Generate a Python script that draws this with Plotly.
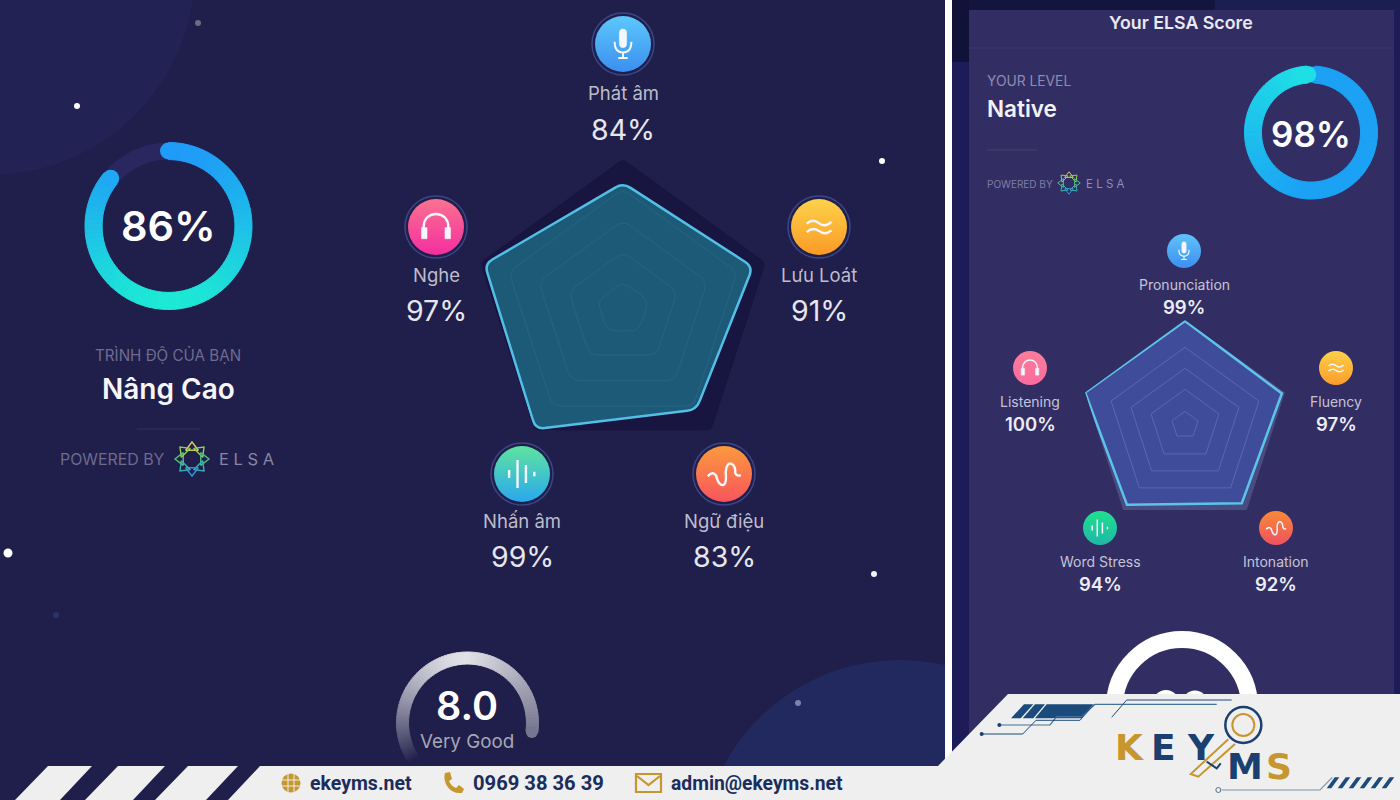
import math, re
import plotly.graph_objects as go

# ---------- data ----------
left_categories = ["Phát âm", "Lưu Loát", "Ngữ điệu", "Nhấn âm", "Nghe"]
left_values = [84, 91, 83, 99, 97]
left_grid = [18, 38, 59, 80]
right_categories = ["Pronunciation", "Fluency", "Intonation", "Word Stress", "Listening"]
right_values = [99, 97, 92, 94, 100]
right_grid = [13, 34, 54, 74]
full_scale = [100, 100, 100, 100, 100]
left_score = 86
right_score = 98
gauge_score = 8.0
gauge_label = "Very Good"
left_level_title = "TRÌNH ĐỘ CỦA BẠN"
left_level = "Nâng Cao"
right_level_title = "YOUR LEVEL"
right_level = "Native"
right_title = "Your ELSA Score"
powered = "POWERED BY"
brand = "E L S A"
footer_texts = ["ekeyms.net", "0969 38 36 39", "admin@ekeyms.net"]

# ---------- palette ----------
BG = "#201e4a"
CARD = "#322e64"
MARGIN = "#1e1c58"
FOOT = "#efefef"
NAVY = "#1b3f70"
GOLD = "#c6962f"
W, H = 1400, 800


def hex_rgb(c):
    return tuple(int(c[i:i + 2], 16) for i in (1, 3, 5))


def mix(a, b, t):
    t = max(0.0, min(1.0, t))
    ra, rb = hex_rgb(a), hex_rgb(b)
    return "#%02x%02x%02x" % tuple(round(ra[i] + (rb[i] - ra[i]) * t) for i in range(3))


def dom(c, r):
    return [(c - r) / W, (c + r) / W]


def ydom(c, r):
    return [1 - (c + r) / H, 1 - (c - r) / H]


shapes = []
anns = []
fig = go.Figure()


def circle(cx, cy, r, fill=None, line=None, lw=0, layer="below"):
    shapes.append(dict(type="circle", xref="x", yref="y", x0=cx - r, x1=cx + r, y0=cy - r, y1=cy + r,
                       fillcolor=fill or "rgba(0,0,0,0)", line=dict(color=line or "rgba(0,0,0,0)", width=lw),
                       layer=layer))


def poly(pts, fill, layer="below"):
    p = "M" + " L".join(f"{x:.1f} {y:.1f}" for x, y in pts) + " Z"
    shapes.append(dict(type="path", xref="x", yref="y", path=p, fillcolor=fill, line=dict(width=0), layer=layer))


def polyline(pts, color, lw=1, layer="above"):
    p = "M" + " L".join(f"{x:.1f} {y:.1f}" for x, y in pts)
    shapes.append(dict(type="path", xref="x", yref="y", path=p, line=dict(color=color, width=lw), layer=layer))


def rect(x0, y0, x1, y1, fill, layer="below"):
    shapes.append(dict(type="rect", xref="x", yref="y", x0=x0, x1=x1, y0=y0, y1=y1, fillcolor=fill,
                       line=dict(width=0), layer=layer))


def text(x, y, s, size, color, weight=400, anchor="center", family="Inter"):
    anns.append(dict(x=x, y=y, xref="x", yref="y", text=s, showarrow=False, xanchor=anchor, yanchor="middle",
                     font=dict(family=family, size=size, color=color, weight=weight)))


def glyph(path, cx, cy, r, color, lw=2, fill=False):
    res, is_x = [], True
    for tok in re.findall(r"[MLQCZ]|-?\d*\.?\d+", path):
        if tok in "MLQCZ":
            res.append(tok)
        else:
            v = float(tok)
            res.append(f"{(cx + v * r) if is_x else (cy + v * r):.2f}")
            is_x = not is_x
    shapes.append(dict(type="path", xref="x", yref="y", path=" ".join(res), layer="above",
                       fillcolor=color if fill else "rgba(0,0,0,0)",
                       line=dict(color=color, width=lw)))


def draw_mic(cx, cy, r, c, lw):
    glyph("M-.13 -.4 Q-.13 -.54 0 -.54 Q.13 -.54 .13 -.4 L.13 0 Q.13 .13 0 .13 Q-.13 .13 -.13 0 Z", cx, cy, r, c, 0.5, True)
    glyph("M-.3 -.08 Q-.3 .3 0 .3 Q.3 .3 .3 -.08", cx, cy, r, c, lw * 0.8)
    glyph("M0 .3 L0 .5 M-.17 .5 L.17 .5", cx, cy, r, c, lw * 0.8)


def draw_head(cx, cy, r, c, lw):
    glyph("M-.44 .15 L-.44 0 C-.44 -.62 .44 -.62 .44 0 L.44 .15", cx, cy, r, c, lw)
    glyph("M-.52 .02 L-.32 .02 L-.32 .42 L-.52 .42 Z", cx, cy, r, c, 0.5, True)
    glyph("M.32 .02 L.52 .02 L.52 .42 L.32 .42 Z", cx, cy, r, c, 0.5, True)


def draw_wave(cx, cy, r, c, lw):
    glyph("M-.44 -.12 Q-.22 -.32 0 -.14 Q.22 .04 .44 -.18", cx, cy, r, c, lw)
    glyph("M-.44 .18 Q-.22 -.02 0 .14 Q.22 .32 .44 .12", cx, cy, r, c, lw)


def draw_bars(cx, cy, r, c, lw):
    glyph("M-.46 -.14 L-.46 .14 M-.16 -.5 L-.16 .5 M.14 -.32 L.14 .32 M.44 -.08 L.44 .08", cx, cy, r, c, lw)


def draw_tone(cx, cy, r, c, lw):
    glyph("M-.58 .08 Q-.4 -.12 -.28 .06 Q-.18 .46 0 .38 Q.1 .3 .06 -.08 Q.1 -.44 .28 -.36 Q.42 -.28 .4 -.04 Q.46 .1 .6 .04", cx, cy, r, c, lw)


icons = [draw_mic, draw_wave, draw_tone, draw_bars, draw_head]
left_icon_pos = [(623, 44), (819, 227), (724, 474), (522, 474), (436, 227)]
left_label_pos = [(623, 93, 129.5), (819, 275, 310.5), (724, 521, 556.5), (522, 521, 556.5), (436, 275, 310.5)]
right_icon_pos = [(1184, 251), (1336, 368), (1276, 528), (1100, 528), (1030, 368)]
right_label_pos = [(1184, 284, 307), (1336, 401, 424), (1276, 561, 584), (1100, 561, 584), (1030, 401, 424)]
left_icon_cols = [("#5cc8fb", "#3b8ff0"), ("#fdd24a", "#fb9a26"), ("#fc9a3c", "#f9545e"), ("#5fe3a0", "#29a8ee"), ("#fb7291", "#f42ea0")]
right_icon_cols = [("#5fc3fa", "#3d8ff0"), ("#fdd04a", "#fb9d2a"), ("#f98a36", "#ee5161"), ("#1fe08e", "#1fb6a8"), ("#fb7d9a", "#fb6b9f")]

# ---------- backgrounds ----------
rect(0, 0, W, H, BG)
circle(-10, -30, 205, fill="#222254")
circle(900, 860, 200, fill="#22295f")
rect(945, 0, 952, 760, "#ffffff")
rect(952, 0, W, H, MARGIN)
rect(952, 0, W, 10, "#13153f")
rect(952, 0, 969, 62, "#10123a")
rect(1215, 0, W, 10, "#1b1e50")
rect(969, 10, 1394, H, CARD)
polyline([(969, 48), (1394, 48)], "#3b3870", 1, "below")

for cx, cy, r, c in [(198, 23, 3, "#6c6c88"), (77, 106, 3, "#ffffff"), (882, 161, 3, "#ffffff"),
                     (8, 553, 4.5, "#ffffff"), (874, 574, 3, "#f4f4f8"), (798, 703, 3, "#7b84a8"),
                     (56, 615, 3, "#2a3370")]:
    circle(cx, cy, r, fill=c)

# ---------- radars ----------


def radar(name, cats, vals, grid, cx, cy, R, back_col, fill_col, edge_col, grid_col, lw):
    fig.add_trace(go.Scatterpolar(r=full_scale + full_scale[:1], theta=cats + cats[:1], subplot=name, mode="lines",
                                  fill="toself", fillcolor=back_col, line=dict(color=back_col, width=lw),
                                  hoverinfo="skip", showlegend=False))
    fig.add_trace(go.Scatterpolar(r=vals + vals[:1], theta=cats + cats[:1], subplot=name, mode="lines",
                                  fill="toself", fillcolor=fill_col, line=dict(color=edge_col, width=lw),
                                  hoverinfo="skip", showlegend=False))
    for g in grid:
        fig.add_trace(go.Scatterpolar(r=[g] * 6, theta=cats + cats[:1], subplot=name, mode="lines",
                                      line=dict(color=grid_col, width=1), hoverinfo="skip", showlegend=False))
    return dict(domain=dict(x=dom(cx, R), y=ydom(cy, R)), bgcolor="rgba(0,0,0,0)", gridshape="linear",
                radialaxis=dict(range=[0, 100], visible=False),
                angularaxis=dict(type="category", categoryorder="array", categoryarray=cats, direction="clockwise",
                                 rotation=90, visible=False))


polar1 = radar("polar", left_categories, left_values, left_grid, 623, 309, 150, "#181640", "#1c5a78", "#53bfe6", "#266583", 2.5)
polar2 = radar("polar2", right_categories, right_values, right_grid, 1185, 425, 105, "#4a4c80", "#3f4c9a", "#5cc4ea", "#5a68ae", 2.5)

# ---------- rings ----------


def ring(score, total, cx, cy, R, hole, color_at, track, rot=0, span=360.0, steps=90):
    covered = score / total * span
    vals, cols = [], []
    for i in range(steps):
        vals.append(covered / steps)
        cols.append(color_at(rot + (i + 0.5) * covered / steps))
    rest = 360 - covered
    vals.append(rest)
    cols.append(track)
    lines = cols[:-1] + ["rgba(0,0,0,0)"]
    fig.add_trace(go.Pie(values=vals, sort=False, direction="clockwise", rotation=rot, hole=hole,
                         domain=dict(x=dom(cx, R), y=ydom(cy, R)), textinfo="none", hoverinfo="skip",
                         showlegend=False, marker=dict(colors=cols, line=dict(color=lines, width=1))))
    return covered


def cap(angle, cx, cy, R, thick, col):
    a = math.radians(angle)
    rm = R - thick / 2
    circle(cx + rm * math.sin(a), cy - rm * math.cos(a), thick / 2, fill=col, layer="above")


def left_col(a):
    return mix("#1f9cf8", "#1de9d6", ((1 - math.cos(math.radians(a))) / 2) ** 1.1)


def right_col(a):
    return mix("#1ba2f5", "#1fdfe6", (a % 360 - 190) / 160)


cov = ring(left_score, 100, 168.5, 226, 83.5, 0.795, left_col, "#2a2660")
cap(0, 168.5, 226, 83.5, 17, left_col(0))
cap(cov, 168.5, 226, 83.5, 17, left_col(cov))
cov = ring(right_score, 100, 1311, 132.5, 66.5, 0.745, right_col, CARD, rot=4)
cap(4, 1311, 132.5, 66.5, 17, right_col(4))
cap(4 + cov, 1311, 132.5, 66.5, 17, right_col(4 + cov - 1))


def gauge_col(a):
    a = (a + 180) % 360 - 180
    if a >= 0:
        w = 1 - 0.55 * (a / 98)
    else:
        w = 1 - (abs(a) / 125) ** 1.6
    return mix(BG, "#e2e2e8", w)


GAUGE_SPAN = 223.0
ring(gauge_score, gauge_score, 467.5, 723, 71, 0.83, gauge_col, BG, rot=-125, span=GAUGE_SPAN)
cap(98, 467.5, 723, 71, 12, gauge_col(98))

# hidden ring on the right card, cut off by the footer
circle(1182, 707, 67.5, line="#ffffff", lw=17)
circle(1166, 703, 13, fill="#ffffff")
circle(1195, 703, 12.5, fill="#ffffff")

# ---------- icons and labels ----------
markers_x, markers_y, markers_c, markers_g, markers_s = [], [], [], [], []
for i, (cat, val) in enumerate(zip(left_categories, left_values)):
    x, y = left_icon_pos[i]
    circle(x, y, 31, line="#3a4686", lw=1.5)
    markers_x.append(x); markers_y.append(y)
    markers_c.append(left_icon_cols[i][0]); markers_g.append(left_icon_cols[i][1]); markers_s.append(56)
    icons[i](x, y, 28, "#f4f7fb", 2.4)
    lx, ly, vy = left_label_pos[i]
    text(lx, ly, cat, 18.5, "#bdbdcc")
    text(lx, vy, f"{val}%", 28.5, "#e6e6ee")
for i, (cat, val) in enumerate(zip(right_categories, right_values)):
    x, y = right_icon_pos[i]
    markers_x.append(x); markers_y.append(y)
    markers_c.append(right_icon_cols[i][0]); markers_g.append(right_icon_cols[i][1]); markers_s.append(34)
    icons[i](x, y, 17, "#f2f5fb", 1.5)
    lx, ly, vy = right_label_pos[i]
    text(lx, ly, cat, 14, "#c4c4d6")
    text(lx, vy, f"{val}%", 18.5, "#ececf3", 600)
fig.add_trace(go.Scatter(x=markers_x, y=markers_y, mode="markers", hoverinfo="skip", showlegend=False,
                         marker=dict(size=markers_s, color=markers_c, opacity=1, line=dict(width=0),
                                     gradient=dict(type="vertical", color=markers_g))))

# ---------- ELSA logos ----------
logo_cols = ["#d5c95a", "#8ccf5d", "#4fc07c", "#38b4b0", "#2e95d8", "#38b4b0", "#4fc07c", "#8ccf5d"]


def logo(cx, cy, r, size, lw):
    xs, ys, angs = [], [], []
    for k in range(8):
        a = 2 * math.pi * k / 8
        xs.append(cx + r * math.sin(a)); ys.append(cy - r * math.cos(a)); angs.append(math.degrees(a))
    fig.add_trace(go.Scatter(x=xs, y=ys, mode="markers", hoverinfo="skip", showlegend=False,
                             marker=dict(symbol="triangle-up-open", size=size, angle=angs, color=logo_cols, opacity=1,
                                         line=dict(color=logo_cols, width=lw))))


logo(192, 459, 11.5, 11, 1.4)
logo(1069, 183, 7.5, 7.5, 1)

# ---------- text ----------
text(168, 226, f"{left_score}%", 41.5, "#ffffff", 600)
text(168, 355, left_level_title, 15.2, "#6f6c90")
text(168, 388.5, left_level, 28, "#f6f6fa", 600)
polyline([(137, 429), (200, 429)], "#33315c", 1, "below")
text(58, 459.5, powered, 15.9, "#6d6b8e", anchor="left")
text(246.5, 459, brand, 16.5, "#8587a4")

text(1181, 22.5, right_title, 17.8, "#e9e9f2", 600)
text(985, 81, right_level_title, 13.8, "#8e8bb0", anchor="left")
text(985, 108, right_level, 22.5, "#f2f2f8", 600, anchor="left")
polyline([(987, 150), (1037, 150)], "#45426f", 1, "below")
text(985, 184, powered, 10, "#807da6", anchor="left")
text(1104.5, 184, brand, 11.5, "#8e8fb4")
text(1311, 134, f"{right_score}%", 35, "#ffffff", 600)
text(467, 705.5, f"{gauge_score:.1f}", 39.5, "#ffffff", 600)
text(467, 741, gauge_label, 18.8, "#a7a7b6")

# ---------- footer ----------
poly([(1008, 694), (W, 694), (W, H), (228, H), (260, 766), (938, 766)], FOOT, "above")
for pts in [[(48, 766), (92, 766), (60, H), (15, H)], [(118, 766), (165, 766), (133, H), (85, H)],
            [(188, 766), (238, 766), (206, H), (155, H)]]:
    poly(pts, FOOT, "above")

text(308, 783, footer_texts[0], 19.5, "#1b2d5c", 700, anchor="left", family="Roboto")
text(471, 783, footer_texts[1], 20.2, "#1b2d5c", 700, anchor="left", family="Roboto")
text(669, 783, footer_texts[2], 19.3, "#1b2d5c", 700, anchor="left", family="Roboto")

# globe
circle(291, 783, 9.5, fill=GOLD, layer="above")
polyline([(282, 780), (300, 780)], FOOT, 1)
polyline([(282, 786), (300, 786)], FOOT, 1)
polyline([(288, 774), (288, 792)], FOOT, 1)
polyline([(294, 774), (294, 792)], FOOT, 1)
# phone
shapes.append(dict(type="path", xref="x", yref="y", layer="above", fillcolor=GOLD, line=dict(width=0),
                   path="M445 773 L450 772 L452 779 L449 781 Q451 786 456 788 L459 785 L464 789 L462 793 Q452 794 447 786 Q443 779 445 773 Z"))
# mail
shapes.append(dict(type="rect", xref="x", yref="y", x0=636, x1=661, y0=774, y1=792, layer="above",
                   fillcolor="rgba(0,0,0,0)", line=dict(color=GOLD, width=2.2)))
polyline([(637, 776), (648.5, 785), (660, 776)], GOLD, 2.2)


def z(x, y):
    return (950 + x / 3, 620 + y / 3)


for pts in [[(183, 295), (212, 295), (250, 253), (222, 253)], [(218, 295), (250, 295), (285, 253), (255, 253)],
            [(255, 295), (395, 295), (430, 253), (290, 253)]]:
    poly([z(*p) for p in pts], "#1b4a7c", "above")
polyline([z(148, 315), z(300, 315), z(320, 290), z(395, 290), z(435, 253), z(800, 253)], "#44709c", 1.2)
polyline([z(95, 342), z(218, 342), z(258, 301), z(390, 301), z(432, 253)], "#1b4a7c", 1)
polyline([z(485, 292), z(530, 240), z(845, 240)], "#1b4a7c", 1)
circle(*z(148, 315), 2, fill="#1b3f70", layer="above")
circle(*z(95, 342), 2, fill="#1b3f70", layer="above")
polyline([z(815, 510), z(1110, 510), z(1147, 472)], "#7d94ad", 1.2)
circle(*z(805, 510), 2.5, fill=FOOT, line="#5a6f88", lw=1, layer="above")
for k in range(6):
    x0 = 1130 + k * 33
    poly([z(x0, 505), z(x0 + 14, 505), z(x0 + 38, 472), z(x0 + 24, 472)], "#1b4a7c", "above")

# logo letters
for ch, x, y, c in [("K", 1129, 747, GOLD), ("E", 1163, 747, NAVY), ("Y", 1201, 747, NAVY),
                    ("M", 1245, 766, NAVY), ("S", 1279, 766, GOLD)]:
    text(x, y, ch, 36, c, 700, family="DejaVu Sans")

# key
circle(*z(880, 315), 18, line=NAVY, lw=2.5, layer="above")
circle(*z(880, 315), 11, line=GOLD, lw=2, layer="above")
polyline([z(835, 358), z(722, 462), z(745, 470), z(855, 372)], GOLD, 2)
polyline([z(770, 425), z(800, 445), z(812, 430)], NAVY, 2)

# ---------- layout ----------
fig.update_layout(width=W, height=H, margin=dict(l=0, r=0, t=0, b=0), paper_bgcolor=BG, plot_bgcolor="rgba(0,0,0,0)",
                  showlegend=False, polar=polar1, polar2=polar2, shapes=shapes, annotations=anns,
                  xaxis=dict(range=[0, W], visible=False, domain=[0, 1], fixedrange=True),
                  yaxis=dict(range=[H, 0], visible=False, domain=[0, 1], fixedrange=True))

# Soften the corners of the library-drawn pentagons in the left radar only.
ROUND_JS = """
document.body.style.margin='0';document.documentElement.style.overflow='hidden';
(function(){
  function soft(d,r){
    var m=d.match(/-?[\\d.]+,-?[\\d.]+/g); if(!m||m.length<4) return d;
    var p=m.map(function(s){return s.split(',').map(Number);});
    var a=p[0],b=p[p.length-1];
    if(Math.abs(a[0]-b[0])<0.01&&Math.abs(a[1]-b[1])<0.01) p.pop();
    var n=p.length,out='';
    for(var i=0;i<n;i++){
      var c=p[i],u=p[(i+n-1)%n],v=p[(i+1)%n];
      var lu=Math.hypot(u[0]-c[0],u[1]-c[1]),lv=Math.hypot(v[0]-c[0],v[1]-c[1]);
      var ru=Math.min(r,lu/3),rv=Math.min(r,lv/3);
      var s=[c[0]+(u[0]-c[0])*ru/lu,c[1]+(u[1]-c[1])*ru/lu];
      var e=[c[0]+(v[0]-c[0])*rv/lv,c[1]+(v[1]-c[1])*rv/lv];
      out+=(i?'L':'M')+s[0]+','+s[1]+'Q'+c[0]+','+c[1]+' '+e[0]+','+e[1];
    }
    return out+'Z';
  }
  function run(){
    document.querySelectorAll('.polar .scatterlayer path.js-line, .polar .scatterlayer path.js-fill').forEach(function(el){
      if(el.dataset.soft) return;
      var d=el.getAttribute('d'); if(!d) return;
      el.setAttribute('d',soft(d,9)); el.dataset.soft='1';
    });
  }
  run(); setTimeout(run,200); setTimeout(run,800);
})();
"""
fig.write_html("out.html", config={"displayModeBar": False}, post_script=ROUND_JS)
